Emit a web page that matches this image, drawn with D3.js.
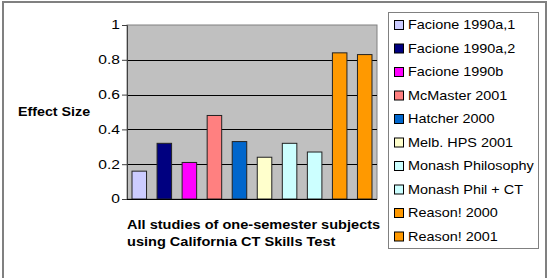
<!DOCTYPE html>
<html>
<head>
<meta charset="utf-8">
<script src="https://cdn.jsdelivr.net/npm/d3@7"></script>
<style>
  body { margin: 0; background: #fff; }
  text { font-family: Arial, "Liberation Sans", sans-serif; fill: #000; }
</style>
</head>
<body>
<script>
// studies and effect sizes
var studies = ["Facione 1990a,1", "Facione 1990a,2", "Facione 1990b", "McMaster 2001",
               "Hatcher 2000", "Melb. HPS 2001", "Monash Philosophy", "Monash Phil + CT",
               "Reason! 2000", "Reason! 2001"];
var effects = [0.16, 0.32, 0.21, 0.48, 0.33, 0.24, 0.32, 0.27, 0.84, 0.83];
var colours = ["#ccccff", "#000080", "#ff00ff", "#ff8080", "#0066cc",
               "#ffffcc", "#ccffff", "#ccffff", "#ff9900", "#ff9900"];
var yTicks = [0, 0.2, 0.4, 0.6, 0.8, 1];
var yTitle = "Effect Size";
var xTitle = ["All studies of one-semester subjects", "using California CT Skills Test"];

var width = 550, height = 278;
var plot = {left: 127, right: 377, top: 25, bottom: 199};

var svg = d3.select("body").append("svg")
    .attr("width", width)
    .attr("height", height);

// outer frame
svg.append("rect")
    .attr("x", 3).attr("y", 2)
    .attr("width", 543).attr("height", 290)
    .attr("fill", "none")
    .attr("stroke", "#808080")
    .attr("stroke-width", 2);

var xScale = d3.scaleBand()
    .domain(studies)
    .range([plot.left, plot.right])
    .paddingInner(0.42)
    .paddingOuter(0.2);

var yScale = d3.scaleLinear()
    .domain([0, 1])
    .range([plot.bottom, plot.top]);

// plot background
svg.append("rect")
    .attr("x", plot.left).attr("y", plot.top)
    .attr("width", plot.right - plot.left)
    .attr("height", plot.bottom - plot.top)
    .attr("fill", "#c0c0c0")
    .attr("stroke", "#808080")
    .attr("stroke-width", 1);

// gridlines
svg.selectAll("line.grid")
    .data(yTicks.filter(function(d){ return d > 0 && d < 1; }))
    .enter()
    .append("line")
    .attr("class", "grid")
    .attr("x1", plot.left).attr("x2", plot.right)
    .attr("y1", function(d){ return Math.round(yScale(d)) + 0.5; })
    .attr("y2", function(d){ return Math.round(yScale(d)) + 0.5; })
    .attr("stroke", "#000")
    .attr("stroke-width", 1);

// bars
svg.selectAll("rect.bar")
    .data(effects)
    .enter()
    .append("rect")
    .attr("class", "bar")
    .attr("x", function(d, i){ return xScale(studies[i]); })
    .attr("y", function(d){ return yScale(d); })
    .attr("width", xScale.bandwidth())
    .attr("height", function(d){ return yScale(0) - yScale(d); })
    .attr("fill", function(d, i){ return colours[i]; })
    .attr("stroke", "#222")
    .attr("stroke-width", 1);

// y axis
var yAxis = svg.append("g")
    .attr("transform", "translate(" + plot.left + ",0)")
    .call(d3.axisLeft(yScale).tickValues(yTicks).tickSize(5).tickPadding(4)
          .tickFormat(function(d){ return d3.format("")(d); }));
yAxis.select(".domain").attr("stroke", "#404040");
yAxis.selectAll(".tick line").attr("stroke", "#404040");
yAxis.selectAll(".tick text")
    .attr("font-size", 12)
    .attr("font-family", "Arial, 'Liberation Sans', sans-serif")
    .attr("fill", "#000")
    .attr("dx", null)
    .attr("x", null)
    .attr("text-anchor", "end")
    .attr("transform", "translate(-7,0) scale(1.3,1)");

// x baseline
svg.append("line")
    .attr("x1", plot.left).attr("x2", plot.right)
    .attr("y1", plot.bottom + 0.5).attr("y2", plot.bottom + 0.5)
    .attr("stroke", "#000");

// axis titles
svg.append("text")
    .attr("transform", "translate(18,116) scale(1.19,1)")
    .attr("font-size", 12)
    .attr("font-weight", "bold")
    .text(yTitle);

svg.selectAll("text.xtitle")
    .data(xTitle)
    .enter()
    .append("text")
    .attr("class", "xtitle")
    .attr("transform", function(d, i){ return "translate(127," + (229 + i * 17) + ") scale(1.12,1)"; })
    .attr("font-size", 13)
    .attr("font-weight", "bold")
    .text(function(d){ return d; });

// legend
svg.append("rect")
    .attr("x", 388.5).attr("y", 12.5)
    .attr("width", 150).attr("height", 236)
    .attr("fill", "#fff")
    .attr("stroke", "#808080");

var legend = svg.selectAll("g.legend")
    .data(studies)
    .enter()
    .append("g")
    .attr("class", "legend")
    .attr("transform", function(d, i){ return "translate(394," + (24 + i * 23.5) + ")"; });

legend.append("rect")
    .attr("x", 0.5).attr("y", -3.5)
    .attr("width", 9).attr("height", 9)
    .attr("fill", function(d, i){ return colours[i]; })
    .attr("stroke", "#000");

legend.append("text")
    .attr("transform", "translate(14,5) scale(1.11,1)")
    .attr("font-size", 13)
    .text(function(d){ return d; });
</script>
</body>
</html>
